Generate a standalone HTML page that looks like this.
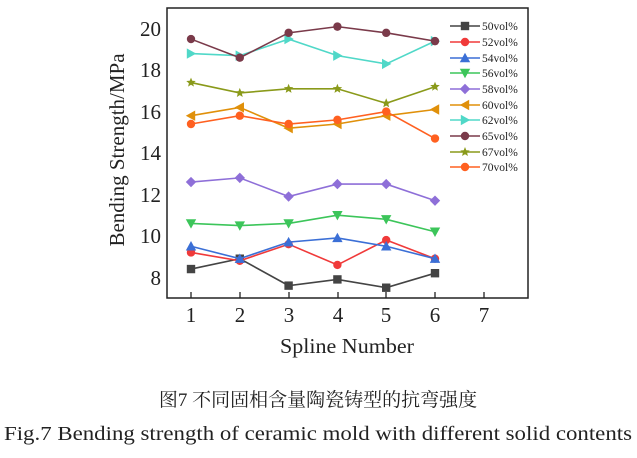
<!DOCTYPE html>
<html><head><meta charset="utf-8"><style>
body{margin:0;background:#fff;width:637px;height:458px;overflow:hidden}
svg{display:block}
.t{font-family:"Liberation Serif",serif;fill:#222}
.c{font-family:"Liberation Serif","Noto Serif CJK SC","Noto Sans CJK SC",serif;fill:#222}
</style></head><body>
<svg id="s" width="637" height="458" viewBox="0 0 637 458" xmlns="http://www.w3.org/2000/svg">
<rect x="167" y="8" width="361" height="290" fill="none" stroke="#222" stroke-width="1.5"/>
<g stroke="#222" stroke-width="1.3">
<line x1="191" x2="191" y1="292" y2="298"/><line x1="240" x2="240" y1="292" y2="298"/><line x1="289" x2="289" y1="292" y2="298"/>
<line x1="338" x2="338" y1="292" y2="298"/><line x1="386" x2="386" y1="292" y2="298"/><line x1="435" x2="435" y1="292" y2="298"/>
<line x1="484" x2="484" y1="292" y2="298"/>
</g>
<g class="t" font-size="21" text-anchor="end">
<text x="161" y="36">20</text><text x="161" y="77">18</text><text x="161" y="119">16</text>
<text x="161" y="160">14</text><text x="161" y="202">12</text><text x="161" y="243">10</text><text x="161" y="285">8</text>
</g>
<g class="t" font-size="21" text-anchor="middle">
<text x="191" y="322">1</text><text x="240" y="322">2</text><text x="289" y="322">3</text><text x="338" y="322">4</text>
<text x="386" y="322">5</text><text x="435" y="322">6</text><text x="484" y="322">7</text>
<text x="347" y="353" textLength="134" lengthAdjust="spacingAndGlyphs">Spline Number</text>
</g>
<text class="t" font-size="21" text-anchor="middle" transform="translate(124,150) rotate(-90)">Bending Strength/MPa</text>
<g class="t" font-size="11.5">
<text x="482" y="30">50vol%</text><text x="482" y="46">52vol%</text><text x="482" y="62">54vol%</text>
<text x="482" y="77">56vol%</text><text x="482" y="93">58vol%</text><text x="482" y="109">60vol%</text>
<text x="482" y="124">62vol%</text><text x="482" y="140">65vol%</text><text x="482" y="156">67vol%</text>
<text x="482" y="171">70vol%</text>
</g>
<text class="c" x="318" y="406" font-size="19" text-anchor="middle">图7 不同固相含量陶瓷铸型的抗弯强度</text>
<text class="t" x="318" y="440" font-size="20" text-anchor="middle" textLength="628" lengthAdjust="spacingAndGlyphs">Fig.7  Bending strength of ceramic mold with different solid contents</text>
<g id="d"></g>
</svg>
<script>
var S=[
["#444",[8.4,8.9,7.6,7.9,7.5,8.2],"sq"],
["#f03a3a",[9.2,8.8,9.6,8.6,9.8,8.9],"ci"],
["#3b6fd6",[9.5,8.9,9.7,9.9,9.5,8.9],"tu"],
["#3cc55a",[10.6,10.5,10.6,11.0,10.8,10.2],"td"],
["#8e6fd8",[12.6,12.8,11.9,12.5,12.5,11.7],"di"],
["#e0900a",[15.8,16.2,15.2,15.4,15.8,16.1],"tl"],
["#50d8c8",[18.8,18.7,19.5,18.7,18.3,19.4],"tr"],
["#7a3a4a",[19.5,18.6,19.8,20.1,19.8,19.4],"ci"],
["#8a9a1a",[17.4,16.9,17.1,17.1,16.4,17.2],"st"],
["#ff6020",[15.4,15.8,15.4,15.6,16.0,14.7],"ci"]];
var ly=[26,42,58,73,89,105,120,136,152,167];
function X(i){return 191+i*48.8}function Y(v){return 28.7+(20-v)*20.72}
function mk(t,x,y,c){var r=4.2;
if(t=="sq")return '<rect x="'+(x-r)+'" y="'+(y-r)+'" width="'+2*r+'" height="'+2*r+'" fill="'+c+'"/>';
if(t=="ci")return '<circle cx="'+x+'" cy="'+y+'" r="'+r+'" fill="'+c+'"/>';
var p;
if(t=="tu")p=[[x,y-r-1],[x+r+1,y+r],[x-r-1,y+r]];
if(t=="td")p=[[x,y+r+1],[x+r+1,y-r],[x-r-1,y-r]];
if(t=="tl")p=[[x-r-1,y],[x+r,y-r-1],[x+r,y+r+1]];
if(t=="tr")p=[[x+r+1,y],[x-r,y-r-1],[x-r,y+r+1]];
if(t=="di")p=[[x,y-r-1],[x+r+1,y],[x,y+r+1],[x-r-1,y]];
if(t=="st"){p=[];for(var k=0;k<10;k++){var a=-Math.PI/2+k*Math.PI/5,rr=k%2?2.2:5;p.push([x+rr*Math.cos(a),y+rr*Math.sin(a)]);}}
return '<polygon points="'+p.map(function(q){return q.join(",")}).join(" ")+'" fill="'+c+'"/>';}
var h="";
S.forEach(function(s,j){var pts=s[1].map(function(v,i){return X(i)+","+Y(v)}).join(" ");
h+='<polyline points="'+pts+'" fill="none" stroke="'+s[0]+'" stroke-width="1.6"/>';
s[1].forEach(function(v,i){h+=mk(s[2],X(i),Y(v),s[0])});
h+='<line x1="450" x2="480" y1="'+ly[j]+'" y2="'+ly[j]+'" stroke="'+s[0]+'" stroke-width="1.6"/>'+mk(s[2],465,ly[j],s[0]);});
document.getElementById("d").innerHTML=h;
</script>
</body></html>
